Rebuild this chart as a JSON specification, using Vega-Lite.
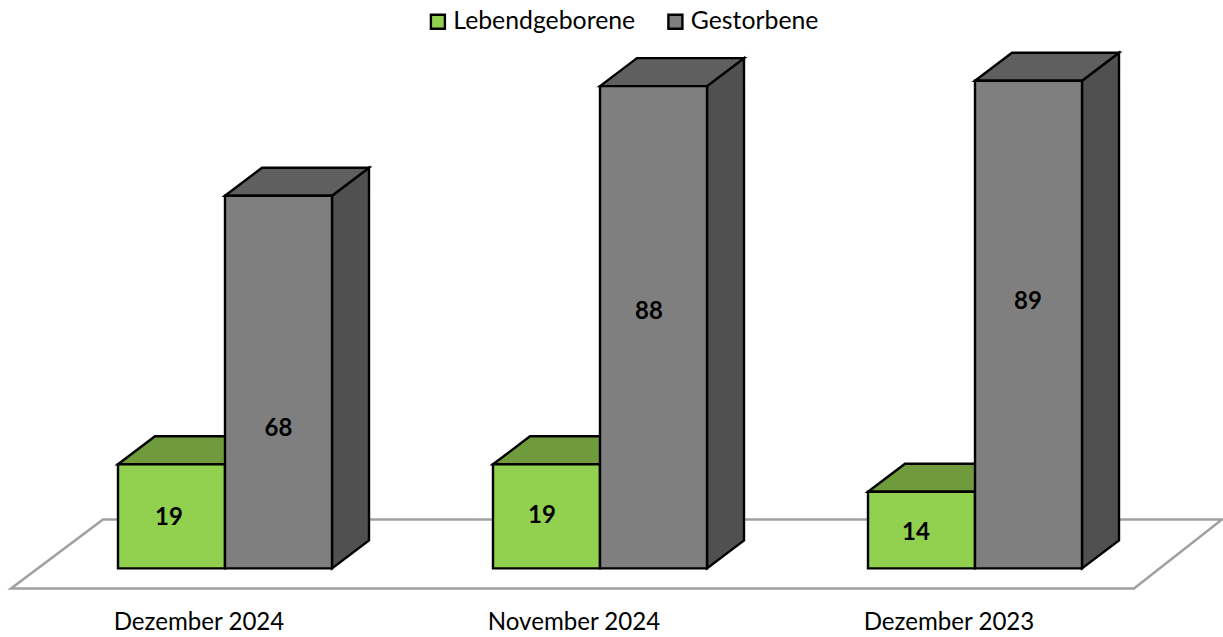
{
"$schema":"https://vega.github.io/schema/vega-lite/v6.json",
"width":1223,"height":637,"padding":0,"autosize":"none",
"background":"white",
"config":{"view":{"stroke":null},"font":"Lato"},
"data":{"values":[
{"month":"Dezember 2024","series":"Lebendgeborene","value":19},
{"month":"Dezember 2024","series":"Gestorbene","value":68},
{"month":"November 2024","series":"Lebendgeborene","value":19},
{"month":"November 2024","series":"Gestorbene","value":88},
{"month":"Dezember 2023","series":"Lebendgeborene","value":14},
{"month":"Dezember 2023","series":"Gestorbene","value":89}
]},
"encoding":{
"x":{"field":"month","type":"nominal","sort":["Dezember 2024","November 2024","Dezember 2023"],
 "scale":{"domain":["Dezember 2024","November 2024","Dezember 2023"],"range":[37.5,1162.5],"paddingInner":0,"paddingOuter":0},
 "axis":{"title":null,"domain":false,"ticks":false,"grid":false,"labelAngle":0,"labelFontSize":24.1,"labelColor":"#000000","labelPadding":-27,"labelOffset":-26,"labelFont":"Lato"}},
"xOffset":{"field":"series","type":"nominal","sort":["Lebendgeborene","Gestorbene"],"scale":{"domain":["Lebendgeborene","Gestorbene"],"paddingInner":0,"paddingOuter":0.752336}},
"y":{"field":"value","type":"quantitative","scale":{"domain":[0,103.65],"nice":false,"zero":true,"range":[568.4,0.4]},"axis":null}
},
"layer":[
{"data":{"values":[{"month":"November 2024","value":0}]},
 "mark":{"type":"point","filled":true,"fill":"transparent","opacity":1,"size":4,"stroke":"#a0a0a0","strokeWidth":2.5,"shape":"M-589,20 L-497,-49 L622,-49 L534,20 Z"},
 "encoding":{"xOffset":null}},
{"transform":[{"filter":"datum.series==='Lebendgeborene'"}],
 "mark":{"type":"point","filled":true,"opacity":1,"size":4,"fill":"#6f9b3c","stroke":"#000000","strokeWidth":2.4,"shape":"M-53.5,0 L-16.5,-28 L90.5,-28 L53.5,0 Z"}},
{"transform":[{"filter":"datum.series==='Lebendgeborene'"}],
 "mark":{"type":"bar","stroke":"#000000","strokeWidth":2.4},
 "encoding":{"color":{"field":"series","type":"nominal","scale":{"domain":["Lebendgeborene","Gestorbene"],"range":["#92d050","#7f7f7f"]},
  "legend":{"orient":"none","legendX":425.5,"legendY":9,"padding":0,"direction":"horizontal","title":null,"symbolType":"square","symbolSize":196,"symbolStrokeColor":"#000000","symbolStrokeWidth":2.4,"labelFontSize":24.8,"labelColor":"#000000","labelFont":"Lato","labelLimit":400,"columnPadding":27.5,"labelOffset":3}}}},
{"transform":[{"filter":"datum.series==='Gestorbene' && datum.value===68"}],
 "mark":{"type":"point","filled":true,"opacity":1,"size":4,"fill":"#505050","stroke":"#000000","strokeWidth":2.4,"shape":"M53.5,0 L90.5,-28 L90.5,344.6 L53.5,372.6 Z"}},
{"transform":[{"filter":"datum.series==='Gestorbene' && datum.value===88"}],
 "mark":{"type":"point","filled":true,"opacity":1,"size":4,"fill":"#505050","stroke":"#000000","strokeWidth":2.4,"shape":"M53.5,0 L90.5,-28 L90.5,454.2 L53.5,482.2 Z"}},
{"transform":[{"filter":"datum.series==='Gestorbene' && datum.value===89"}],
 "mark":{"type":"point","filled":true,"opacity":1,"size":4,"fill":"#505050","stroke":"#000000","strokeWidth":2.4,"shape":"M53.5,0 L90.5,-28 L90.5,459.7 L53.5,487.7 Z"}},
{"transform":[{"filter":"datum.series==='Gestorbene'"}],
 "mark":{"type":"point","filled":true,"opacity":1,"size":4,"fill":"#5f5f5f","stroke":"#000000","strokeWidth":2.4,"shape":"M-53.5,0 L-16.5,-28 L90.5,-28 L53.5,0 Z"}},
{"transform":[{"filter":"datum.series==='Gestorbene'"}],
 "mark":{"type":"bar","stroke":"#000000","strokeWidth":2.4},
 "encoding":{"color":{"field":"series","type":"nominal","scale":{"domain":["Lebendgeborene","Gestorbene"],"range":["#92d050","#7f7f7f"]}}}},
{"encoding":{"text":{"field":"value","type":"quantitative"}},
 "layer":[
 {"transform":[{"filter":"datum.month==='Dezember 2024' && datum.series==='Lebendgeborene'"}],"mark":{"type":"text","font":"Lato","fontWeight":"bold","fontSize":24,"color":"#000000","dx":-2.5,"yOffset":54}},
 {"transform":[{"filter":"datum.month==='Dezember 2024' && datum.series==='Gestorbene'"}],"mark":{"type":"text","font":"Lato","fontWeight":"bold","fontSize":24,"color":"#000000","dx":0,"yOffset":233}},
 {"transform":[{"filter":"datum.month==='November 2024' && datum.series==='Lebendgeborene'"}],"mark":{"type":"text","font":"Lato","fontWeight":"bold","fontSize":24,"color":"#000000","dx":-4.5,"yOffset":52}},
 {"transform":[{"filter":"datum.month==='November 2024' && datum.series==='Gestorbene'"}],"mark":{"type":"text","font":"Lato","fontWeight":"bold","fontSize":24,"color":"#000000","dx":-4.5,"yOffset":226}},
 {"transform":[{"filter":"datum.month==='Dezember 2023' && datum.series==='Lebendgeborene'"}],"mark":{"type":"text","font":"Lato","fontWeight":"bold","fontSize":24,"color":"#000000","dx":-5.5,"yOffset":41}},
 {"transform":[{"filter":"datum.month==='Dezember 2023' && datum.series==='Gestorbene'"}],"mark":{"type":"text","font":"Lato","fontWeight":"bold","fontSize":24,"color":"#000000","dx":-0.5,"yOffset":221}}
 ]}
]
}
